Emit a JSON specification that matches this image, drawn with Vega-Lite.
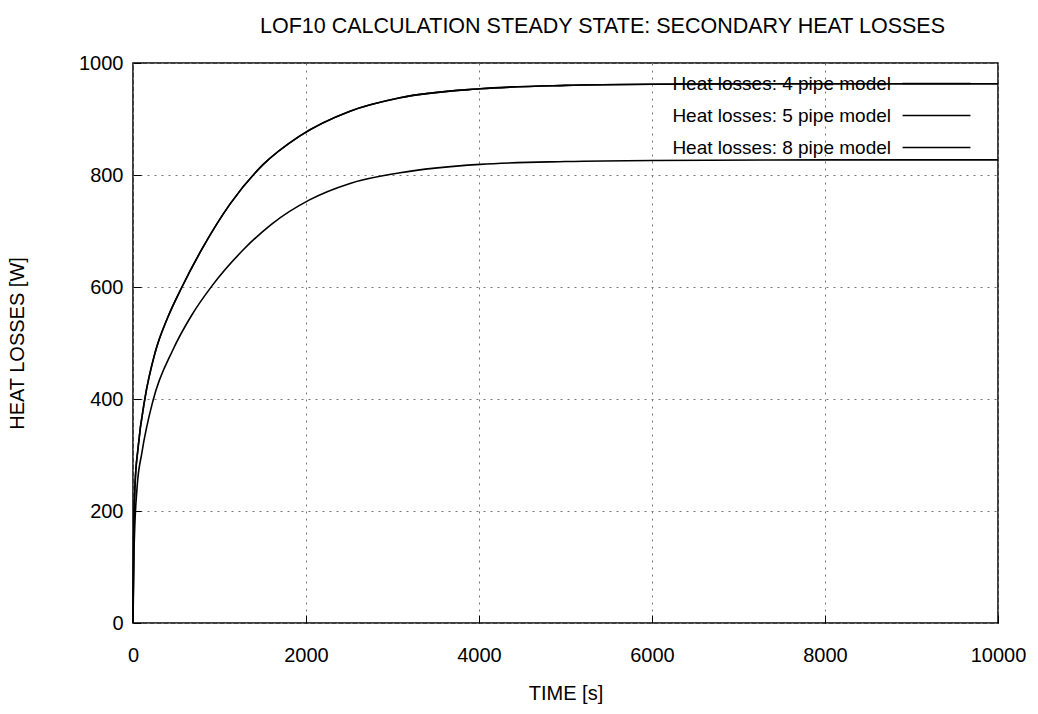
{
  "$schema": "https://vega.github.io/schema/vega-lite/v6.json",
  "width": 865,
  "height": 560,
  "autosize": "none",
  "padding": {"left": 133, "top": 63, "right": 40, "bottom": 91},
  "background": "white",
  "config": {
    "font": "Liberation Sans",
    "view": {"stroke": "black", "strokeWidth": 1.5}
  },
  "title": {
    "text": "LOF10 CALCULATION STEADY STATE: SECONDARY HEAT LOSSES",
    "fontSize": 21.5,
    "fontWeight": "normal",
    "color": "black",
    "anchor": "middle",
    "offset": 16,
    "dx": 37
  },
  "datasets": {
    "curves": [
      {"t": 0, "v": 0, "s": "Heat losses: 4 pipe model"},
      {"t": 8, "v": 150, "s": "Heat losses: 4 pipe model"},
      {"t": 23, "v": 245, "s": "Heat losses: 4 pipe model"},
      {"t": 58, "v": 312, "s": "Heat losses: 4 pipe model"},
      {"t": 139, "v": 402, "s": "Heat losses: 4 pipe model"},
      {"t": 254, "v": 482, "s": "Heat losses: 4 pipe model"},
      {"t": 400, "v": 545, "s": "Heat losses: 4 pipe model"},
      {"t": 566, "v": 600, "s": "Heat losses: 4 pipe model"},
      {"t": 798, "v": 668, "s": "Heat losses: 4 pipe model"},
      {"t": 1121, "v": 748, "s": "Heat losses: 4 pipe model"},
      {"t": 1500, "v": 818, "s": "Heat losses: 4 pipe model"},
      {"t": 1930, "v": 870, "s": "Heat losses: 4 pipe model"},
      {"t": 2509, "v": 914, "s": "Heat losses: 4 pipe model"},
      {"t": 3087, "v": 938, "s": "Heat losses: 4 pipe model"},
      {"t": 4012, "v": 954, "s": "Heat losses: 4 pipe model"},
      {"t": 5000, "v": 960, "s": "Heat losses: 4 pipe model"},
      {"t": 6000, "v": 962, "s": "Heat losses: 4 pipe model"},
      {"t": 8000, "v": 963, "s": "Heat losses: 4 pipe model"},
      {"t": 10000, "v": 963, "s": "Heat losses: 4 pipe model"},
      {"t": 0, "v": 0, "s": "Heat losses: 5 pipe model"},
      {"t": 8, "v": 150, "s": "Heat losses: 5 pipe model"},
      {"t": 23, "v": 245, "s": "Heat losses: 5 pipe model"},
      {"t": 58, "v": 312, "s": "Heat losses: 5 pipe model"},
      {"t": 139, "v": 402, "s": "Heat losses: 5 pipe model"},
      {"t": 254, "v": 482, "s": "Heat losses: 5 pipe model"},
      {"t": 400, "v": 545, "s": "Heat losses: 5 pipe model"},
      {"t": 566, "v": 600, "s": "Heat losses: 5 pipe model"},
      {"t": 798, "v": 668, "s": "Heat losses: 5 pipe model"},
      {"t": 1121, "v": 748, "s": "Heat losses: 5 pipe model"},
      {"t": 1500, "v": 818, "s": "Heat losses: 5 pipe model"},
      {"t": 1930, "v": 870, "s": "Heat losses: 5 pipe model"},
      {"t": 2509, "v": 914, "s": "Heat losses: 5 pipe model"},
      {"t": 3087, "v": 938, "s": "Heat losses: 5 pipe model"},
      {"t": 4012, "v": 954, "s": "Heat losses: 5 pipe model"},
      {"t": 5000, "v": 960, "s": "Heat losses: 5 pipe model"},
      {"t": 6000, "v": 962, "s": "Heat losses: 5 pipe model"},
      {"t": 8000, "v": 963, "s": "Heat losses: 5 pipe model"},
      {"t": 10000, "v": 963, "s": "Heat losses: 5 pipe model"},
      {"t": 0, "v": 0, "s": "Heat losses: 8 pipe model"},
      {"t": 12, "v": 130, "s": "Heat losses: 8 pipe model"},
      {"t": 46, "v": 240, "s": "Heat losses: 8 pipe model"},
      {"t": 104, "v": 305, "s": "Heat losses: 8 pipe model"},
      {"t": 231, "v": 397, "s": "Heat losses: 8 pipe model"},
      {"t": 462, "v": 488, "s": "Heat losses: 8 pipe model"},
      {"t": 680, "v": 550, "s": "Heat losses: 8 pipe model"},
      {"t": 913, "v": 602, "s": "Heat losses: 8 pipe model"},
      {"t": 1272, "v": 666, "s": "Heat losses: 8 pipe model"},
      {"t": 1600, "v": 712, "s": "Heat losses: 8 pipe model"},
      {"t": 2046, "v": 756, "s": "Heat losses: 8 pipe model"},
      {"t": 2509, "v": 785, "s": "Heat losses: 8 pipe model"},
      {"t": 3087, "v": 804, "s": "Heat losses: 8 pipe model"},
      {"t": 4012, "v": 819, "s": "Heat losses: 8 pipe model"},
      {"t": 5000, "v": 824, "s": "Heat losses: 8 pipe model"},
      {"t": 6000, "v": 826, "s": "Heat losses: 8 pipe model"},
      {"t": 8000, "v": 827, "s": "Heat losses: 8 pipe model"},
      {"t": 10000, "v": 827, "s": "Heat losses: 8 pipe model"}
    ]
  },
  "data": {"name": "curves"},
  "mark": {"type": "line", "strokeWidth": 1.6, "interpolate": "monotone"},
  "encoding": {
    "x": {
      "field": "t",
      "type": "quantitative",
      "scale": {"domain": [0, 10000], "nice": false},
      "axis": {
        "title": "TIME [s]",
        "titleFontSize": 20,
        "titleFontWeight": "normal",
        "titleColor": "black",
        "titlePadding": 18,
        "values": [0, 2000, 4000, 6000, 8000, 10000],
        "format": "d",
        "labelFontSize": 20,
        "labelColor": "black",
        "labelPadding": 30,
        "labelFlush": false,
        "domain": false,
        "tickSize": -8,
        "tickColor": "black",
        "grid": true,
        "gridColor": "#777",
        "gridDash": [2, 5],
        "gridWidth": 1
      }
    },
    "y": {
      "field": "v",
      "type": "quantitative",
      "scale": {"domain": [0, 1000], "nice": false},
      "axis": {
        "title": "HEAT LOSSES [W]",
        "titleFontSize": 20,
        "titleFontWeight": "normal",
        "titleColor": "black",
        "titlePadding": 51,
        "values": [0, 200, 400, 600, 800, 1000],
        "format": "d",
        "labelFontSize": 20,
        "labelColor": "black",
        "labelPadding": 18,
        "labelFlush": false,
        "domain": false,
        "tickSize": -8,
        "tickColor": "black",
        "grid": true,
        "gridColor": "#777",
        "gridDash": [2, 5],
        "gridWidth": 1
      }
    },
    "color": {
      "field": "s",
      "type": "nominal",
      "scale": {"range": ["black", "black", "black"]},
      "legend": {
        "title": null,
        "orient": "none",
        "legendX": 794,
        "legendY": 11,
        "symbolType": "M-6,0H6",
        "symbolSize": 128,
        "symbolStrokeWidth": 1.4,
        "labelFontSize": 19,
        "labelColor": "black",
        "labelAlign": "right",
        "labelOffset": -55,
        "labelLimit": 400,
        "rowPadding": 12,
        "fillColor": null
      }
    }
  }
}
